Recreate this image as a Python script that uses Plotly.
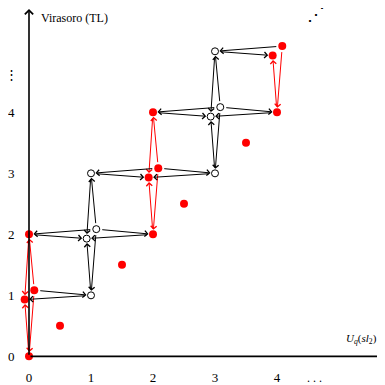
import plotly.graph_objects as go

# ---- data ----
# single states (column j, level)
single_x = [0, 1, 2, 3, 4, 0, 1, 2, 3]
single_y = [0, 1, 2, 3, 4, 2, 3, 4, 5]
# doubled states (column j, level j+1), drawn as a split pair
pair_x = [0, 1, 2, 3, 4]
pair_y = [1, 2, 3, 4, 5]
# isolated half-integer states
half_x = [0.5, 1.5, 2.5, 3.5]
half_y = [0.5, 1.5, 2.5, 3.5]
tick_vals = [0, 1, 2, 3, 4]
tick_text = ["0", "1", "2", "3", "4"]

RED = "#ff0000"
BLACK = "#000000"
FONT = "Liberation Serif"
PAGE = 8                     # default body margin of the html page
W = H = 385 - PAGE
OX, OY, UNIT = 29 - PAGE, 362 - PAGE, 62  # origin pixel (figure coords) and unit length
LO, HI = -0.07, 0.085       # pair splitting offsets


def px2x(p):
    return (p - PAGE - OX) / UNIT


def py2y(p):
    return (OY - (p - PAGE)) / UNIT


def is_red(x):
    return round(x) % 2 == 0


fig = go.Figure()

A = [(x + LO, y + LO) for x, y in zip(pair_x, pair_y)]
B = [(x + HI, y + HI) for x, y in zip(pair_x, pair_y)]
singles = list(zip(single_x, single_y))

annotations = []


def arrow(tail, head, color):
    annotations.append(dict(
        x=head[0], y=head[1], ax=tail[0], ay=tail[1],
        xref="x", yref="y", axref="x", ayref="y",
        text="", showarrow=True, arrowhead=4, arrowsize=1.15, arrowwidth=1,
        arrowcolor=color, standoff=4.5, startstandoff=4.5,
    ))


for i, j in enumerate(pair_x):
    neighbours = [(j, j), (j, j + 2), (j - 1, j + 1), (j + 1, j + 1)]
    for n in neighbours:
        if n in singles:
            col = RED if (is_red(j) and is_red(n[0])) else BLACK
            arrow(n, A[i], col)
            arrow(B[i], n, col)

# axes arrows
annotations.append(dict(x=px2x(383), y=0, ax=0, ay=0, xref="x", yref="y",
                        axref="x", ayref="y", text="", showarrow=True, arrowhead=4,
                        arrowsize=1.0, arrowwidth=1.6, arrowcolor=BLACK))
annotations.append(dict(x=0, y=py2y(9), ax=0, ay=0, xref="x", yref="y",
                        axref="x", ayref="y", text="", showarrow=True, arrowhead=4,
                        arrowsize=1.0, arrowwidth=1.6, arrowcolor=BLACK))

# markers
red_pts = [(x, y) for x, y in singles if is_red(x)]
open_pts = [(x, y) for x, y in singles if not is_red(x)]
red_pts += [p for p, x in zip(A, pair_x) if is_red(x)] + [p for p, x in zip(B, pair_x) if is_red(x)]
open_pts += [p for p, x in zip(A, pair_x) if not is_red(x)] + [p for p, x in zip(B, pair_x) if not is_red(x)]

fig.add_trace(go.Scatter(x=[p[0] for p in red_pts], y=[p[1] for p in red_pts], mode="markers",
                         marker=dict(size=8, color=RED), cliponaxis=False, hoverinfo="skip"))
fig.add_trace(go.Scatter(x=[p[0] for p in open_pts], y=[p[1] for p in open_pts], mode="markers",
                         marker=dict(size=7, color="white", line=dict(color=BLACK, width=1)),
                         cliponaxis=False, hoverinfo="skip"))
fig.add_trace(go.Scatter(x=half_x, y=half_y, mode="markers",
                         marker=dict(size=8, color=RED), cliponaxis=False, hoverinfo="skip"))


def txt(x, y, s, size=12, xanchor="center", yanchor="middle", yref="y"):
    annotations.append(dict(x=x, y=y, xref="x", yref=yref, text=s, showarrow=False,
                            xanchor=xanchor, yanchor=yanchor,
                            font=dict(family=FONT, size=size, color=BLACK)))


txt(px2x(39), py2y(18), "Virasoro (TL)", 12, "left")
txt(px2x(344), py2y(344), "<i>U</i><sub><i>q</i></sub>(<i>sl</i><sub>2</sub>)", 11, "left")
txt(px2x(314), (385 - 393) / H, ". . .", 12, "center", "bottom", "paper")
txt(px2x(11), py2y(76), "⋮", 13)
txt(px2x(315.5), py2y(14), "⋰", 18)

fig.update_layout(
    width=W, height=H, margin=dict(l=0, r=0, t=0, b=0),
    plot_bgcolor="white", paper_bgcolor="white", showlegend=False,
    annotations=annotations,
    xaxis=dict(range=[-OX / UNIT, (W - OX) / UNIT], domain=[0, 1], anchor="free",
               position=(H - OY) / H, showgrid=False, zeroline=False, showline=False,
               tickvals=tick_vals, ticktext=tick_text, ticks="outside", ticklen=9,
               tickcolor="rgba(0,0,0,0)", tickfont=dict(family=FONT, size=13, color=BLACK)),
    yaxis=dict(range=[-(H - OY) / UNIT, OY / UNIT], domain=[0, 1], anchor="free",
               position=OX / W, showgrid=False, zeroline=False, showline=False,
               tickvals=tick_vals, ticktext=tick_text, ticks="outside", ticklen=12,
               tickcolor="rgba(0,0,0,0)", tickfont=dict(family=FONT, size=13, color=BLACK)),
)

fig.write_html("out.html")
